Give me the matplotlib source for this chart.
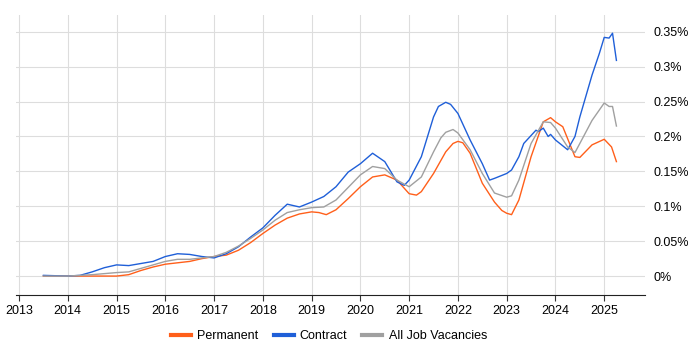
import matplotlib
matplotlib.use("Agg")
import matplotlib.pyplot as plt
from matplotlib.ticker import FuncFormatter

plt.rcParams['font.family'] = ['Liberation Sans', 'DejaVu Sans']

# Permanent
perm_t = [2013.5, 2014.0, 2014.5, 2015.0, 2015.25, 2015.5, 2015.75, 2016.0, 2016.25, 2016.5,
          2016.75, 2017.0, 2017.25, 2017.5, 2017.75, 2018.0, 2018.25, 2018.5, 2018.75, 2019.0,
          2019.15, 2019.3, 2019.5, 2019.75, 2020.0, 2020.25, 2020.5, 2020.75, 2021.0, 2021.15,
          2021.25, 2021.5, 2021.75, 2021.9, 2022.0, 2022.1, 2022.25, 2022.5, 2022.75, 2022.9,
          2023.0, 2023.1, 2023.25, 2023.5, 2023.75, 2023.9, 2024.0, 2024.15, 2024.4, 2024.5,
          2024.75, 2025.0, 2025.15, 2025.25]
perm_v = [0.0, 0.0, 0.0, 0.0, 0.002, 0.008, 0.013, 0.017, 0.019, 0.021,
          0.025, 0.028, 0.030, 0.037, 0.048, 0.061, 0.073, 0.083, 0.089, 0.092,
          0.091, 0.088, 0.095, 0.111, 0.128, 0.142, 0.145, 0.1375, 0.118, 0.116,
          0.121, 0.147, 0.178, 0.190, 0.193, 0.191, 0.176, 0.133, 0.106, 0.094,
          0.090, 0.088, 0.109, 0.171, 0.221, 0.227, 0.221, 0.214, 0.171, 0.170,
          0.188, 0.196, 0.185, 0.164]

# Contract
cont_t = [2013.5, 2014.0, 2014.25, 2014.5, 2014.75, 2015.0, 2015.25, 2015.5, 2015.75, 2016.0,
          2016.25, 2016.5, 2016.75, 2017.0, 2017.25, 2017.5, 2017.75, 2018.0, 2018.25, 2018.5,
          2018.75, 2019.0, 2019.25, 2019.5, 2019.75, 2020.0, 2020.25, 2020.5, 2020.75, 2020.9,
          2021.0, 2021.25, 2021.5, 2021.6, 2021.75, 2021.85, 2022.0, 2022.25, 2022.5, 2022.65,
          2022.75, 2023.0, 2023.1, 2023.25, 2023.35, 2023.6, 2023.65, 2023.75, 2023.85, 2023.9,
          2024.0, 2024.25, 2024.4, 2024.5, 2024.75, 2024.9, 2025.0, 2025.1, 2025.17, 2025.25]
cont_v = [0.001, 0.0, 0.001, 0.006, 0.012, 0.016, 0.015, 0.018, 0.021, 0.028,
          0.032, 0.031, 0.028, 0.026, 0.032, 0.042, 0.056, 0.069, 0.087, 0.103,
          0.099, 0.106, 0.114, 0.128, 0.149, 0.161, 0.176, 0.164, 0.135, 0.130,
          0.1375, 0.171, 0.228, 0.243, 0.249, 0.246, 0.233, 0.195, 0.161, 0.1375,
          0.140, 0.147, 0.152, 0.171, 0.190, 0.209, 0.207, 0.212, 0.200, 0.203,
          0.195, 0.181, 0.200, 0.228, 0.288, 0.319, 0.342, 0.341, 0.348, 0.309]

# All Job Vacancies
all_t = [2013.5, 2014.0, 2014.5, 2015.0, 2015.25, 2015.5, 2015.75, 2016.0, 2016.25, 2016.5,
         2016.75, 2017.0, 2017.25, 2017.5, 2017.75, 2018.0, 2018.25, 2018.5, 2018.75, 2019.0,
         2019.25, 2019.5, 2019.75, 2020.0, 2020.25, 2020.5, 2020.75, 2021.0, 2021.25, 2021.5,
         2021.65, 2021.75, 2021.9, 2022.0, 2022.25, 2022.5, 2022.75, 2023.0, 2023.1, 2023.25,
         2023.5, 2023.75, 2023.9, 2024.0, 2024.25, 2024.4, 2024.5, 2024.75, 2025.0, 2025.1,
         2025.17, 2025.25]
all_v = [0.0, 0.0, 0.002, 0.005, 0.006, 0.011, 0.016, 0.021, 0.024, 0.024,
         0.026, 0.028, 0.034, 0.043, 0.054, 0.066, 0.080, 0.091, 0.095, 0.098,
         0.099, 0.109, 0.127, 0.145, 0.157, 0.154, 0.1375, 0.128, 0.142, 0.178,
         0.198, 0.206, 0.210, 0.205, 0.181, 0.147, 0.119, 0.113, 0.115, 0.1375,
         0.190, 0.221, 0.220, 0.212, 0.185, 0.177, 0.190, 0.223, 0.248, 0.243,
         0.243, 0.215]

years = list(range(2013, 2026))
pct_ticks = [0, 0.05, 0.1, 0.15, 0.2, 0.25, 0.3, 0.35]

fig = plt.figure(figsize=(7, 3.5), dpi=100)
ax = fig.add_axes([0.023, 0.157, 0.898, 0.8])

ax.plot(perm_t, perm_v, color='#ff5f1a', lw=1.0, label='Permanent')
ax.plot(cont_t, cont_v, color='#1f5fd8', lw=1.0, label='Contract')
ax.plot(all_t, all_v, color='#a0a0a0', lw=1.0, label='All Job Vacancies')

ax.set_xlim(2012.94, 2025.83)
ax.set_ylim(-0.0272, 0.374)
ax.set_xticks(years)
ax.set_yticks(pct_ticks)
ax.yaxis.set_major_formatter(FuncFormatter(lambda v, p: '0%' if v == 0 else ('%g%%' % v)))
ax.yaxis.tick_right()
ax.tick_params(axis='y', length=0, labelsize=9, pad=6)
ax.tick_params(axis='x', length=4, labelsize=9, color='#333333')
ax.grid(True, color='#dddddd', lw=0.8)
ax.set_axisbelow(True)
for s in ['top', 'right', 'left']:
    ax.spines[s].set_visible(False)
ax.spines['bottom'].set_color('#222222')

fig.legend(loc='lower center', ncol=3, frameon=False, fontsize=9,
           bbox_to_anchor=(0.47, -0.01), handlelength=1.6, handletextpad=0.5,
           columnspacing=1.2)
for h in fig.legends[0].get_lines():
    h.set_linewidth(3)

fig.savefig('out.png', dpi=100)
